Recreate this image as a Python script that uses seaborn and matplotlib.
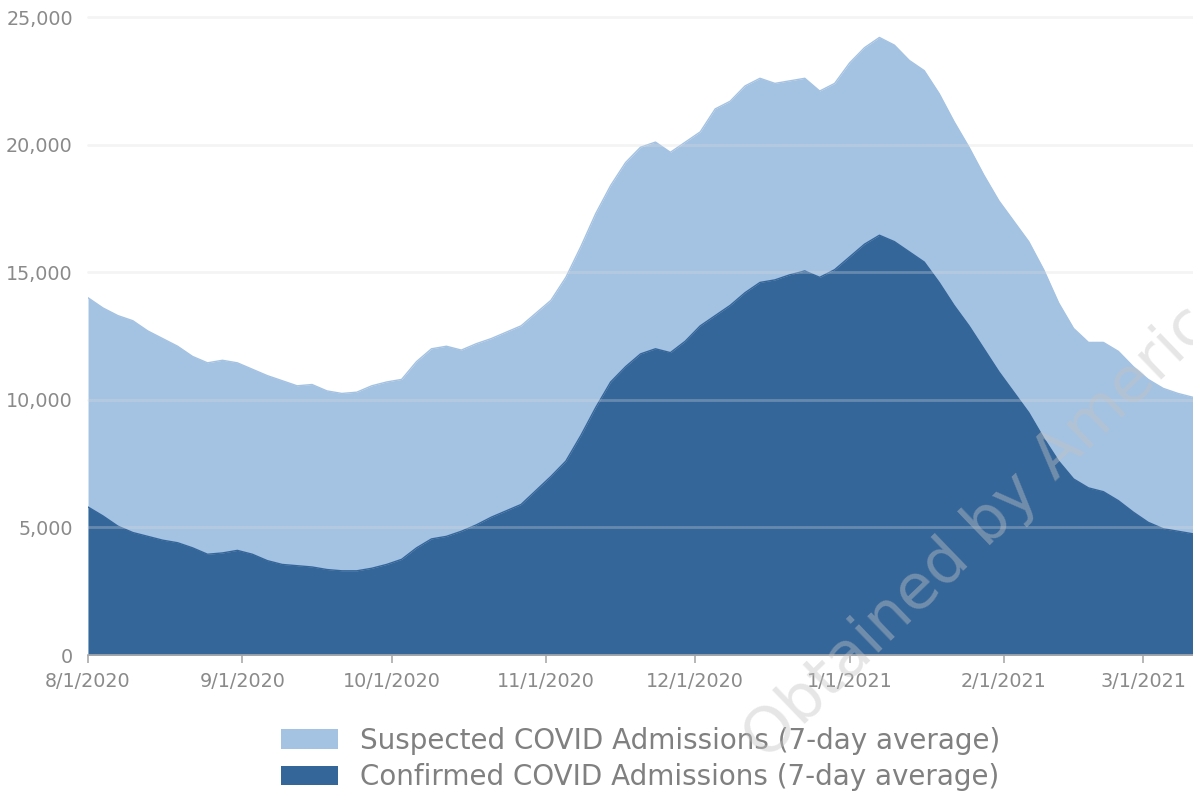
import pandas as pd
import numpy as np
import matplotlib
matplotlib.use("Agg")
import matplotlib.pyplot as plt
import matplotlib.dates as mdates
from matplotlib.patches import Patch
import seaborn as sns

# readings every 3 days, 8/1/2020 .. 3/11/2021
dates = pd.date_range("2020-08-01", periods=75, freq="3D")

total_admissions = [
    14000, 13600, 13300, 13100, 12700, 12400, 12100, 11700, 11450, 11550,
    11450, 11200, 10950, 10750, 10550, 10600, 10350, 10250, 10300, 10550,
    10700, 10800, 11500, 12000, 12100, 11950, 12200, 12400, 12650, 12900,
    13400, 13900, 14800, 16000, 17300, 18400, 19300, 19900, 20100, 19700,
    20100, 20500, 21400, 21700, 22300, 22600, 22400, 22500, 22600, 22100,
    22400, 23200, 23800, 24200, 23900, 23300, 22900, 22000, 20900, 19900,
    18800, 17800, 17000, 16200, 15100, 13800, 12800, 12250, 12250, 11900,
    11300, 10800, 10450, 10250, 10100,
]

confirmed_admissions = [
    5800, 5450, 5050, 4800, 4650, 4500, 4400, 4200, 3950, 4000,
    4100, 3950, 3700, 3550, 3500, 3450, 3350, 3300, 3300, 3400,
    3550, 3750, 4200, 4550, 4650, 4850, 5100, 5400, 5650, 5900,
    6450, 7000, 7600, 8600, 9700, 10700, 11300, 11800, 12000, 11850,
    12300, 12900, 13300, 13700, 14200, 14600, 14700, 14900, 15050, 14800,
    15100, 15600, 16100, 16450, 16200, 15800, 15400, 14600, 13700, 12900,
    12000, 11100, 10300, 9500, 8500, 7600, 6900, 6550, 6400, 6050,
    5600, 5200, 4950, 4850, 4750,
]

tick_dates = pd.to_datetime([
    "2020-08-01", "2020-09-01", "2020-10-01", "2020-11-01",
    "2020-12-01", "2021-01-01", "2021-02-01", "2021-03-01",
])
y_ticks = [0, 5000, 10000, 15000, 20000, 25000]

labels = [
    "Suspected COVID Admissions (7-day average)",
    "Confirmed COVID Admissions (7-day average)",
]

light_blue = "#a4c2e2"
dark_blue = "#35669a"
text_gray = "#8a8a8a"

df = pd.DataFrame({
    "date": dates,
    "total": total_admissions,
    "confirmed": confirmed_admissions,
})

sns.set_theme(style="white")
plt.rcParams["font.family"] = ["DejaVu Sans"]

fig = plt.figure(figsize=(11.93, 7.96), dpi=100)
ax = fig.add_axes([0.0738, 0.1771, 0.9262, 0.8015])

ax.fill_between(df["date"], 0, df["total"], color=light_blue, linewidth=0, zorder=1)
ax.fill_between(df["date"], 0, df["confirmed"], color=dark_blue, linewidth=0, zorder=2)
sns.lineplot(data=df, x="date", y="total", ax=ax, color=light_blue, linewidth=1, zorder=1)
sns.lineplot(data=df, x="date", y="confirmed", ax=ax, color=dark_blue, linewidth=1, zorder=2)

ax.set_xlim(dates[0], dates[-1])
ax.set_ylim(0, 25000)
ax.set_yticks(y_ticks)
ax.yaxis.set_major_formatter(plt.FuncFormatter(lambda v, _: f"{int(v):,}"))
ax.set_xticks(tick_dates)
ax.set_xticklabels([f"{d.month}/{d.day}/{d.year}" for d in tick_dates])
ax.set_xlabel("")
ax.set_ylabel("")

# faint grid drawn over the areas, as in the source chart
for y in y_ticks[1:]:
    ax.axhline(y, color="#dcdcdc", alpha=0.3, linewidth=2, zorder=3, clip_on=False)

for side in ["top", "right", "left"]:
    ax.spines[side].set_visible(False)
ax.spines["bottom"].set_color("#aaaaaa")
ax.spines["bottom"].set_linewidth(1.2)
ax.spines["bottom"].set_zorder(4)

ax.tick_params(axis="x", colors="#aaaaaa", labelcolor=text_gray, length=6, width=1.2,
               direction="out", bottom=True, labelsize=13.8, pad=6)
ax.tick_params(axis="y", left=False, labelcolor=text_gray, labelsize=13.8, pad=5)

handles = [Patch(facecolor=light_blue, edgecolor="none"),
           Patch(facecolor=dark_blue, edgecolor="none")]
fig.legend(handles, labels, loc="center", bbox_to_anchor=(0.537, 0.0465),
           frameon=False, fontsize=20, labelcolor="#808080",
           handlelength=2.05, handleheight=0.72, handletextpad=0.8, labelspacing=0.3)

fig.text(0.632, 0.058, "Obtained by American Oversight", rotation=44,
         rotation_mode="anchor", ha="left", va="center", fontsize=45,
         color="#c4c4c4", alpha=0.42, zorder=10)

fig.savefig("out.png", dpi=100)
